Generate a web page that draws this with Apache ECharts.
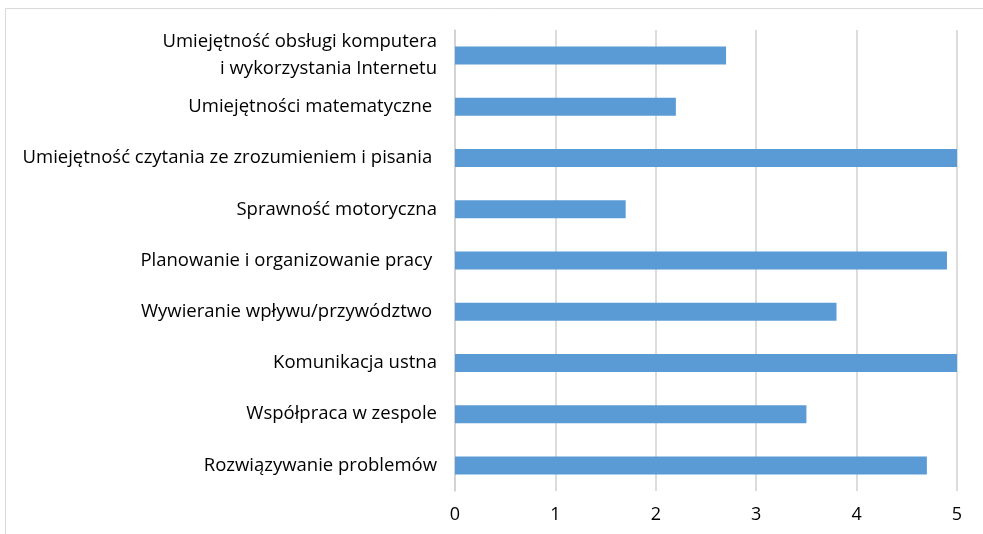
<!DOCTYPE html>
<html>
<head>
<meta charset="utf-8">
<script src="https://cdn.jsdelivr.net/npm/echarts@6/dist/echarts.min.js"></script>
<style>
  html, body { margin: 0; padding: 0; background: #fff; }
  #chart { width: 983px; height: 534px; }
</style>
</head>
<body>
<div id="chart"></div>
<script>
// kategorie od góry do dołu
var categories = [
    'Umiejętność obsługi komputera\ni wykorzystania Internetu',
    'Umiejętności matematyczne ',
    'Umiejętność czytania ze zrozumieniem i pisania ',
    'Sprawność motoryczna',
    'Planowanie i organizowanie pracy ',
    'Wywieranie wpływu/przywództwo ',
    'Komunikacja ustna',
    'Współpraca w zespole',
    'Rozwiązywanie problemów'
];
var values = [2.7, 2.2, 5, 1.7, 4.9, 3.8, 5, 3.5, 4.7];
var xTicks = [0, 1, 2, 3, 4, 5];

var chart = echarts.init(document.getElementById('chart'), null, { renderer: 'canvas' });

var option = {
    animation: false,
    textStyle: { fontFamily: 'Open Sans' },
    // ramka wykresu
    graphic: [{
        type: 'rect',
        shape: { x: 5.5, y: 8.5, width: 1100, height: 700 },
        style: { fill: 'none', stroke: '#d9d9d9', lineWidth: 1 },
        silent: true
    }],
    grid: {
        left: 455,
        right: 26,
        top: 30,
        bottom: 43
    },
    xAxis: {
        type: 'value',
        min: xTicks[0],
        max: xTicks[xTicks.length - 1],
        interval: 1,
        axisLine: { show: false },
        axisTick: { show: false },
        axisLabel: {
            color: '#000',
            fontSize: 18,
            margin: 15
        },
        splitLine: { lineStyle: { color: '#d0d0d0', width: 1.5 } }
    },
    yAxis: {
        type: 'category',
        data: categories,
        inverse: true,
        axisLine: { show: true, lineStyle: { color: '#d0d0d0', width: 1.5 } },
        axisTick: { show: false },
        axisLabel: {
            color: '#000',
            fontSize: 18.5,
            lineHeight: 27,
            margin: 18,
            align: 'right'
        }
    },
    series: [{
        type: 'bar',
        data: values,
        barWidth: 18,
        itemStyle: { color: '#5b9bd5' }
    }]
};

chart.setOption(option);
</script>
</body>
</html>
